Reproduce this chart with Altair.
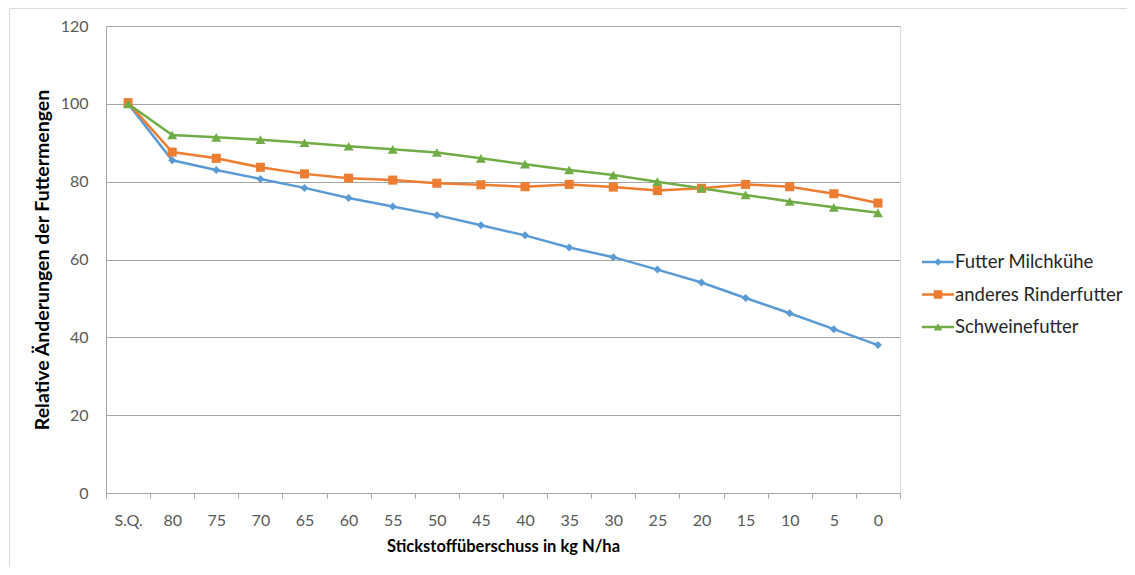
import altair as alt
import pandas as pd

categories = ["S.Q.", "80", "75", "70", "65", "60", "55", "50", "45", "40",
              "35", "30", "25", "20", "15", "10", "5", "0"]
series_names = ["Futter Milchkühe", "anderes Rinderfutter", "Schweinefutter"]
milchkuehe = [100.0, 85.5, 83.0, 80.7, 78.4, 75.8, 73.6, 71.4, 68.8, 66.2,
              63.1, 60.6, 57.4, 54.1, 50.1, 46.2, 42.1, 38.0]
rinder = [100.3, 87.6, 86.0, 83.7, 82.0, 80.9, 80.4, 79.6, 79.2, 78.7,
          79.3, 78.6, 77.7, 78.3, 79.3, 78.7, 76.9, 74.5]
schweine = [100.0, 92.0, 91.4, 90.8, 90.0, 89.1, 88.3, 87.5, 86.0, 84.5,
            83.0, 81.7, 80.0, 78.3, 76.6, 74.9, 73.4, 72.0]
colors = ["#5B9BD5", "#ED7D31", "#70AD47"]
shapes = ["diamond", "square", "triangle-up"]
marker_sizes = [64, 100, 90]
# legend symbols: a line segment with the marker in the middle (filled polygons)
legend_paths = [
    "M-1,-0.075H1V0.075H-1Z M0,-0.24L0.24,0L0,0.24L-0.24,0Z",
    "M-1,-0.075H1V0.075H-1Z M-0.27,-0.27H0.27V0.27H-0.27Z",
    "M-1,-0.075H1V0.075H-1Z M0,-0.24L0.27,0.22H-0.27Z",
]

rows = []
for name, vals in zip(series_names, [milchkuehe, rinder, schweine]):
    for c, v in zip(categories, vals):
        rows.append({"cat": c, "val": v, "series": name})
df = pd.DataFrame(rows)
lg_df = pd.DataFrame({"lg": series_names})

FONT = "Lato"
GRID = "#a6a6a6"

x_enc = alt.X("cat:N", sort=categories,
              scale=alt.Scale(paddingInner=0, paddingOuter=0),
              axis=alt.Axis(title="Stickstoffüberschuss in kg N/ha", labelAngle=0,
                            tickBand="extent", grid=False, tickSize=5,
                            labelPadding=14, titlePadding=10,
                            domainColor=GRID, tickColor=GRID,
                            labelColor="#595959", labelFontSize=16, labelFont=FONT,
                            titleFont=FONT, titleFontSize=16.5, titleFontWeight="bold",
                            titleColor="#000000"))
y_enc = alt.Y("val:Q", scale=alt.Scale(domain=[0, 120]),
              axis=alt.Axis(title="Relative Änderungen der Futtermengen",
                            values=[0, 20, 40, 60, 80, 100, 120], ticks=False,
                            labelPadding=18, titlePadding=8,
                            domainColor=GRID, gridColor=GRID,
                            labelColor="#595959", labelFontSize=16, labelFont=FONT,
                            titleFont=FONT, titleFontSize=19.5, titleFontWeight="bold",
                            titleColor="#000000"))

lines = alt.Chart(df).mark_line(strokeWidth=2.5).encode(
    x=x_enc, y=y_enc,
    color=alt.Color("series:N", scale=alt.Scale(domain=series_names, range=colors),
                    legend=None),
)
points = alt.Chart(df).mark_point(filled=True, opacity=1).encode(
    x=x_enc, y=y_enc,
    color=alt.Color("series:N", scale=alt.Scale(domain=series_names, range=colors),
                    legend=None),
    shape=alt.Shape("series:N", scale=alt.Scale(domain=series_names, range=shapes),
                    legend=None),
    size=alt.Size("series:N", scale=alt.Scale(domain=series_names, range=marker_sizes),
                  legend=None),
)

legend = alt.Legend(
    title=None, orient="none", legendX=816, legendY=220,
    symbolSize=1024, rowPadding=6.5, labelOffset=1, labelLimit=400,
    labelFont=FONT, labelFontSize=18.5, labelColor="#262626",
    symbolOpacity=1, symbolStrokeWidth=0,
)
legend_layer = alt.Chart(lg_df).transform_filter("false").mark_point(
    filled=True, opacity=1, size=1024).encode(
    x=alt.value(0), y=alt.value(0),
    color=alt.Color("lg:N", scale=alt.Scale(domain=series_names, range=colors),
                    legend=legend),
    shape=alt.Shape("lg:N", scale=alt.Scale(domain=series_names, range=legend_paths),
                    legend=legend),
)

frame_df = pd.DataFrame({"k": [0]})
frame_left = alt.Chart(frame_df).mark_rule(color="#d9d9d9", strokeWidth=1).encode(
    x=alt.value(-96.5), y=alt.value(-17.5), y2=alt.value(541))
frame_top = alt.Chart(frame_df).mark_rule(color="#d9d9d9", strokeWidth=1).encode(
    x=alt.value(-96.5), x2=alt.value(1021), y=alt.value(-17.5))

chart = alt.layer(lines, points, legend_layer, frame_left, frame_top).resolve_scale(
    color="independent", shape="independent", size="independent"
).properties(
    width=794, height=467,
    autosize=alt.AutoSizeParams(type="none"),
    padding={"left": 98, "top": 18, "right": 227, "bottom": 74},
).configure_view(stroke="transparent", strokeWidth=0).configure(background="white")

chart.save("out.html", embed_options={"renderer": "svg", "actions": False})
